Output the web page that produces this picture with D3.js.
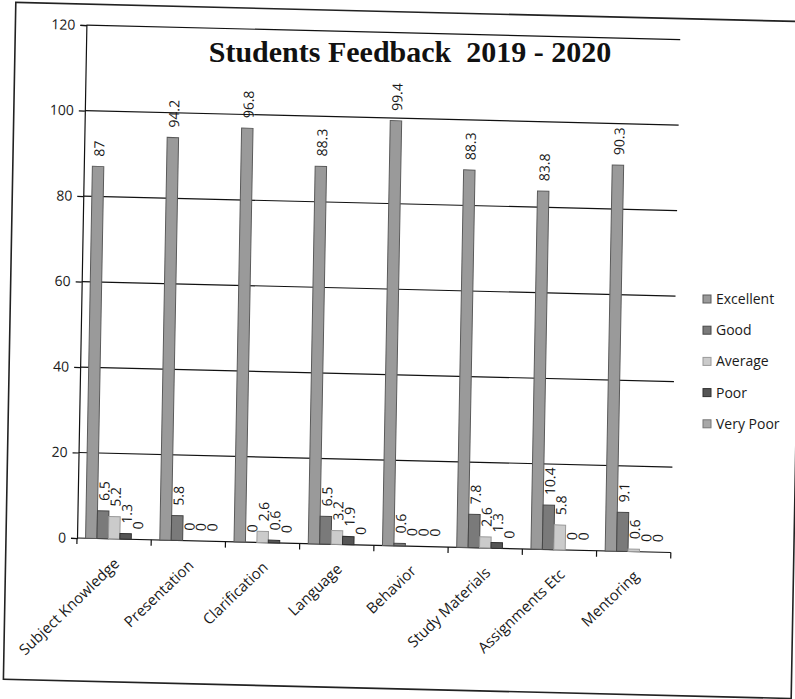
<!DOCTYPE html>
<html>
<head>
<meta charset="utf-8">
<script src="https://cdn.jsdelivr.net/npm/d3@7"></script>
<style>
  body { margin: 0; background: #fff; }
  text { font-family: "Open Sans", sans-serif; fill: #1a1a1a; }
</style>
</head>
<body>
<svg id="chart"></svg>
<script>
// chart values
var categories = ["Subject Knowledge", "Presentation", "Clarification", "Language",
  "Behavior", "Study Materials", "Assignments Etc", "Mentoring"];
var seriesNames = ["Excellent", "Good", "Average", "Poor", "Very Poor"];
var excellent = [87, 94.2, 96.8, 88.3, 99.4, 88.3, 83.8, 90.3];
var good      = [6.5, 5.8, 0, 6.5, 0.6, 7.8, 10.4, 9.1];
var average   = [5.2, 0, 2.6, 3.2, 0, 2.6, 5.8, 0.6];
var poor      = [1.3, 0, 0.6, 1.9, 0, 1.3, 0, 0];
var veryPoor  = [0, 0, 0, 0, 0, 0, 0, 0];
var yTicks = [0, 20, 40, 60, 80, 100, 120];

var seriesValues = [excellent, good, average, poor, veryPoor];
var fills   = ["#9a9a9a", "#7a7a7a", "#cbcbcb", "#555555", "#a8a8a8"];
var strokes = ["#5a5a5a", "#474747", "#9a9a9a", "#303030", "#777777"];

var width = 795, height = 699;
var plotLeft = 77, plotRight = 671, plotTop = 25, plotBottom = 538;

var svg = d3.select("#chart")
  .attr("width", width)
  .attr("height", height);

svg.append("rect")
  .attr("width", width)
  .attr("height", height)
  .attr("fill", "#fff");

// the scan is a little skewed, so tilt the chart body the same way
var a = 1.4 * Math.PI / 180, b = 1.05 * Math.PI / 180;
var g = svg.append("g")
  .attr("transform", "translate(" + plotLeft + "," + plotBottom + ") matrix(" +
    Math.cos(a) + "," + Math.sin(a) + "," + (-Math.sin(b)) + "," + Math.cos(b) +
    ",0,0) translate(" + (-plotLeft) + "," + (-plotBottom) + ")");

// outer border
g.append("rect")
  .attr("x", 6).attr("y", 4)
  .attr("width", 788).attr("height", 677)
  .attr("fill", "none")
  .attr("stroke", "#222")
  .attr("stroke-width", 1.6);

var x0 = d3.scaleBand().domain(categories).range([plotLeft, plotRight]);
var x1 = d3.scaleBand().domain(seriesNames).range([0, x0.bandwidth()])
  .paddingInner(0).paddingOuter(0.75);
var y = d3.scaleLinear().domain([0, 120]).range([plotBottom, plotTop]);

// gridlines
g.append("g")
  .selectAll("line")
  .data(yTicks.slice(1))
  .enter().append("line")
  .attr("x1", plotLeft).attr("x2", plotRight)
  .attr("y1", function(d) { return y(d); })
  .attr("y2", function(d) { return y(d); })
  .attr("stroke", "#111")
  .attr("stroke-width", 1.2);

// y axis
var yAxis = g.append("g")
  .attr("transform", "translate(" + plotLeft + ",0)")
  .call(d3.axisLeft(y).tickValues(yTicks).tickSize(6).tickPadding(5));
yAxis.selectAll("text")
  .style("font-size", "14px")
  .style("font-family", "'Open Sans', sans-serif")
  .style("fill", "#1a1a1a");
yAxis.selectAll("line, path").attr("stroke", "#111").attr("stroke-width", 1.2);

// x axis line with ticks between categories
g.append("line")
  .attr("x1", plotLeft).attr("x2", plotRight)
  .attr("y1", plotBottom).attr("y2", plotBottom)
  .attr("stroke", "#111").attr("stroke-width", 1.2);
var bounds = categories.map(function(c) { return x0(c); }).concat([plotRight]);
g.append("g")
  .selectAll("line")
  .data(bounds)
  .enter().append("line")
  .attr("x1", function(d) { return d; })
  .attr("x2", function(d) { return d; })
  .attr("y1", plotBottom).attr("y2", plotBottom + 6)
  .attr("stroke", "#111").attr("stroke-width", 1.2);

// category labels
g.append("g")
  .selectAll("text")
  .data(categories)
  .enter().append("text")
  .attr("transform", function(d) {
    return "translate(" + (x0(d) + x0.bandwidth() / 2 + 3) + "," + (plotBottom + 22) + ") rotate(-45)";
  })
  .attr("text-anchor", "end")
  .attr("dy", "0.35em")
  .style("font-size", "15px")
  .text(function(d) { return d; });

// bars
var bars = [];
seriesValues.forEach(function(vals, s) {
  vals.forEach(function(v, i) {
    bars.push({ cat: categories[i], series: seriesNames[s], s: s, value: v });
  });
});

g.append("g")
  .selectAll("rect")
  .data(bars)
  .enter().append("rect")
  .attr("x", function(d) { return x0(d.cat) + x1(d.series); })
  .attr("width", x1.bandwidth())
  .attr("y", function(d) { return y(d.value); })
  .attr("height", function(d) { return y(0) - y(d.value); })
  .attr("fill", function(d) { return fills[d.s]; })
  .attr("stroke", function(d) { return d.value > 0 ? strokes[d.s] : "none"; })
  .attr("stroke-width", 1);

// value labels, rotated above each bar
g.append("g")
  .selectAll("text")
  .data(bars)
  .enter().append("text")
  .attr("transform", function(d) {
    var cx = x0(d.cat) + x1(d.series) + x1.bandwidth() / 2 + 1;
    return "translate(" + cx + "," + (y(d.value) - 10) + ") rotate(-90)";
  })
  .attr("text-anchor", "start")
  .attr("dy", "0.35em")
  .style("font-size", "14px")
  .text(function(d) { return d.value; });

// title
svg.append("text")
  .attr("x", 410)
  .attr("y", 62)
  .attr("text-anchor", "middle")
  .style("white-space", "pre")
  .style("font-family", "'Liberation Serif', 'Times New Roman', serif")
  .style("font-weight", "bold")
  .style("font-size", "30px")
  .style("fill", "#111")
  .text("Students Feedback  2019 - 2020");

// legend
var legend = svg.selectAll(".legend")
  .data(seriesNames)
  .enter().append("g")
  .attr("class", "legend")
  .attr("transform", function(d, i) {
    return "translate(703," + (299 + i * 31.2) + ")";
  });

legend.append("rect")
  .attr("x", 0).attr("y", -4)
  .attr("width", 8).attr("height", 8)
  .attr("fill", function(d, i) { return fills[i]; })
  .attr("stroke", function(d, i) { return strokes[i]; });

legend.append("text")
  .attr("x", 13)
  .attr("dy", "0.35em")
  .style("font-size", "14px")
  .text(function(d) { return d; });
</script>
</body>
</html>
